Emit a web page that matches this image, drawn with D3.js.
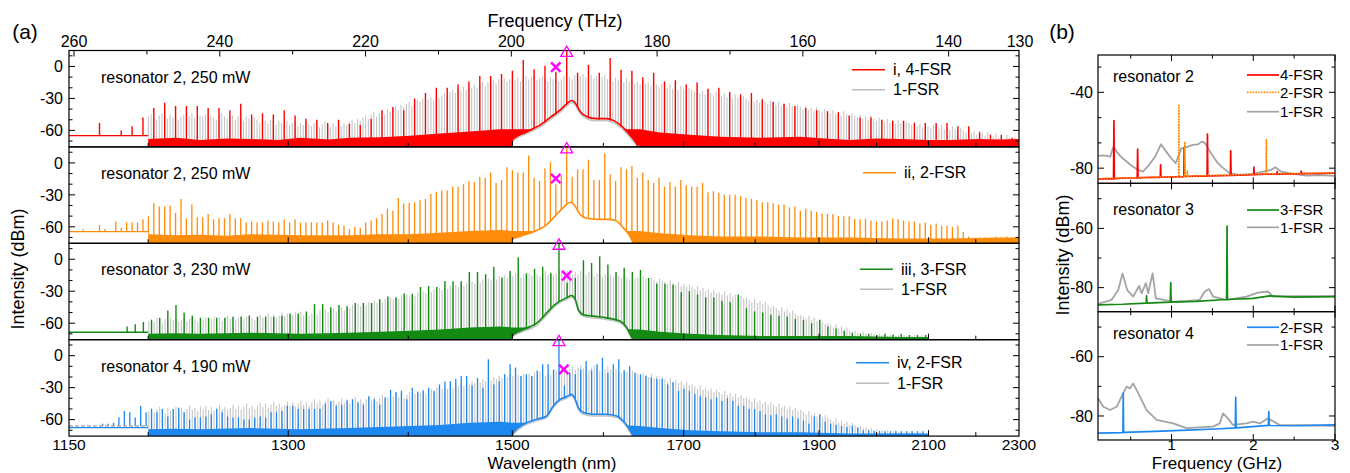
<!DOCTYPE html>
<html>
<head>
<meta charset="utf-8">
<script src="https://cdn.jsdelivr.net/npm/d3@7"></script>
<style>
  body { margin: 0; background: #fff; }
  text { font-family: "Liberation Sans", Arial, sans-serif; fill: #000; }
</style>
</head>
<body>
<svg id="fig" width="1350" height="473"></svg>
<script>
// ================= data, panel (a) =================
const C = 299792.458;              // nm * THz
const FSR = 0.3727;                // THz, single-FSR line spacing
const pumpRes2 = 192.40;           // THz, pump for resonator 2 (rows i, ii)
const pumpRes34 = 193.46;          // THz, pump for resonators 3, 4 (rows iii, iv)

const rowLabels = ["resonator 2, 250 mW", "resonator 2, 250 mW", "resonator 3, 230 mW", "resonator 4, 190 mW"];
const legendNames = ["i, 4-FSR", "ii, 2-FSR", "iii, 3-FSR", "iv, 2-FSR"];

// peak power (dBm) of each comb line, listed from high to low frequency
// red, 4-FSR, line index 43 .. -41 from the pump
const redPeaks = [
  -53,-66,-60,-56,-48,-39,-34,-37,-37,-37,
  -39,-39,-41,-35,-45,-44,-45,-41,-46,-49,
  -50,-53,-50,-54,-55,-49,-41,-38,-41,-30,
  -25,-20,-20,-17,-14,-9,-9,-7,-4,6,
  -2.5,0.6,-5,15,-6,1.5,-6,8,-3,-4,
  -10,-6,-14,-13,-17,-15,-21,-20,-24,-26,
  -25,-31,-33,-35,-37,-39,-41,-42,-43,-46,
  -48,-48,-50,-51,-51,-53,-53,-53,-53,-56,
  -56,-62,-64,-64,-67];
// gray, 1-FSR of resonator 2, index 154 .. -165
const gray1Peaks = [
  -47,-45,-48,-50,-46,-44,-47,-49,-45,-48, -46,-50,-47,-45,-49,-47,-44,-48,-50,-46,
  -47,-45,-49,-46,-48,-50,-46,-44,-47,-49, -48,-46,-50,-47,-49,-51,-47,-49,-52,-48,
  -50,-53,-49,-51,-54,-50,-52,-55,-51,-53, -54,-51,-55,-53,-52,-56,-53,-55,-52,-54,
  -56,-53,-55,-57,-54,-52,-55,-57,-53,-56, -54,-56,-53,-55,-52,-50,-53,-49,-51,-48,
  -46,-49,-45,-43,-47,-44,-41,-45,-40,-42, -39,-37,-41,-36,-38,-35,-33,-37,-34,-31,
  -33,-30,-34,-31,-29,-32,-28,-30,-27,-25, -27,-24,-22,-25,-21,-23,-19,-22,-18,-20,
  -17,-20,-16,-14,-18,-15,-17,-13,-16,-12, -15,-11,-14,-12,-9,-13,-10,-14,-11,-9,
  -12,-10,-8,-13,-11,-9,-12,-14,-10,-12, -11,-14,-12,-9,-5,-10,-12,-8,-11,-9,
  -7,-10,-12,-8,-11,-9,-13,-10,-8,-12, -11,-14,-10,-13,-12,-15,-11,-14,-13,-16,
  -14,-17,-13,-16,-15,-18,-14,-17,-19,-16, -18,-20,-17,-21,-19,-22,-18,-21,-23,-20,
  -22,-24,-21,-25,-23,-26,-22,-25,-27,-24, -26,-28,-25,-29,-27,-30,-26,-29,-31,-28,
  -30,-32,-29,-33,-31,-34,-30,-33,-35,-32, -34,-36,-33,-37,-35,-38,-34,-37,-39,-36,
  -38,-40,-37,-41,-39,-42,-38,-41,-43,-40, -42,-44,-41,-45,-43,-46,-42,-45,-47,-44,
  -46,-48,-45,-49,-47,-50,-46,-49,-51,-48, -50,-52,-49,-53,-51,-54,-50,-53,-55,-52,
  -53,-55,-52,-56,-54,-57,-53,-56,-58,-55, -56,-58,-55,-59,-57,-60,-56,-59,-61,-58,
  -60,-62,-59,-63,-61,-64,-60,-63,-65,-62, -64,-66,-63,-67,-65,-68,-64,-67,-68,-66];
// orange, 2-FSR, index 89 .. -83
const orangePeaks = [
  -62.5,-66,-66,-58,-62,-66,-55,-61,-56,-56,
  -56,-53,-50,-38,-41,-41,-40,-47,-34,-52,
  -39,-51,-51,-48,-53,-52,-52,-48,-52,-52,
  -56,-55,-56,-56,-54,-55,-56,-53,-56,-53,
  -56,-56,-56,-56,-56,-54,-56,-58,-59,-62,
  -60,-61,-56,-54,-52,-48,-43,-45,-33,-38,
  -38,-37,-35,-34,-29,-27,-26,-26,-22.5,-22.5,
  -20,-17,-18,-13,-14,-9,-19,-16,-4,-7,
  -9,-9,7,-14,-17,-5,0.6,-20,-12,15,
  -13,-6,-6,3,-16,-16,9,-11,-17,-4,
  -6,-3,-14,-9,-16,-19,-14,-22.5,-18,-22.5,
  -16,-21,-22.5,-22.5,-19,-27.5,-26.6,-28,-30,-30,
  -30,-31,-33,-34,-35,-37,-37,-38,-39,-39,
  -42,-41,-45,-43,-45,-46,-47.5,-48,-48,-50,
  -50,-50,-52.5,-53,-52.5,-54,-55,-55,-54,-52,
  -53,-54,-55,-55,-57,-56,-58,-57,-59,-59,
  -60,-59,-65,-69,-70,-70,-70,-70,-69,-70,
  -69,-70,-70];
// green, 3-FSR, index 53 .. -45
const greenPeaks = [
  -63,-61,-59,-57,-55,-48,-43,-50,-53,-55,
  -55,-55,-55,-54,-54,-53,-54,-54,-54,-53,
  -51,-51,-49,-42,-42,-45,-43,-44,-41,-41,
  -41,-37.5,-35,-36,-32,-32.5,-26,-25,-26,-20.5,
  -20.6,-20.6,-12,-12,-14,-7,-17,-11,2,-13,
  -9,-7,-13,15,-22,-17.5,-1,-3.4,2.8,-5,
  -12,-8,-12,-10,-17.5,-23,-23,-24,-31,-30,
  -33,-36,-36,-39,-40,-33,-46,-49,-50,-52,
  -53,-54,-56,-57,-60,-57,-63,-65,-67,-69,
  -70,-70,-71,-70,-71,-70,-71,-71,-71];
// gray, 1-FSR of resonator 3, index 151 .. -135
const gray3Peaks = [
  -58,-56,-59,-55,-57,-60,-56,-58,-55,-57, -56,-59,-57,-55,-58,-56,-54,-57,-59,-55,
  -57,-55,-58,-56,-54,-57,-55,-58,-56,-53, -56,-54,-57,-55,-53,-56,-54,-52,-55,-57,
  -54,-52,-55,-53,-51,-54,-52,-55,-53,-50, -53,-51,-54,-52,-50,-53,-49,-52,-50,-53,
  -51,-49,-52,-48,-50,-47,-50,-48,-46,-49, -47,-45,-48,-44,-46,-43,-45,-42,-44,-41,
  -43,-40,-42,-39,-41,-38,-40,-37,-39,-36, -38,-35,-37,-34,-36,-33,-35,-32,-34,-31,
  -33,-30,-32,-29,-31,-28,-30,-27,-29,-26, -28,-25,-27,-24,-26,-23,-25,-22,-24,-21,
  -23,-20,-22,-19,-21,-18,-20,-17,-19,-16, -18,-15,-17,-14,-16,-13,-15,-17,-14,-16,
  -13,-15,-12,-14,-16,-13,-11,-14,-12,-15, -13,-10,-12,-14,-11,-13,-15,-12,-14,-11,
  -13,-15,-12,-14,-16,-13,-15,-17,-14,-16, -15,-17,-14,-16,-18,-15,-17,-19,-16,-18,
  -17,-19,-16,-18,-20,-17,-19,-21,-18,-20, -21,-23,-20,-22,-24,-21,-25,-23,-26,-24,
  -26,-28,-25,-29,-27,-30,-28,-31,-29,-32, -31,-33,-30,-34,-32,-35,-33,-36,-34,-37,
  -36,-38,-40,-37,-41,-39,-42,-40,-43,-45, -44,-46,-48,-45,-49,-47,-50,-48,-51,-53,
  -52,-54,-56,-53,-57,-55,-58,-56,-59,-61, -60,-62,-64,-61,-65,-63,-66,-64,-67,-68,
  -67,-69,-70,-68,-70,-71,-69,-70,-71,-70, -71,-70,-72,-71,-70,-72,-71,-72,-71,-72,
  -71,-72,-71,-72,-72,-71,-72];
// blue, 2-FSR, index 85 .. -67
const bluePeaks = [
  -66,-64,-64,-63,-58,-52,-53,-58,-47,-53,
  -50,-53,-50,-57,-50,-49,-53,-60,-58,-58,
  -57,-55,-50,-53,-57,-58,-58,-60,-60,-58,
  -57,-58,-53,-53,-52,-47,-47,-50,-50,-50,
  -50,-50,-45,-42.5,-47,-46,-42,-41,-44,-46,
  -38,-41,-46,-39,-32,-34,-33,-41,-30,-34,
  -33,-30,-33,-27,-24,-24,-22,-19,-19,-28,
  -21,-30,-3.4,-27,-24,-17.5,-8,-11,-19,-17.5,
  -19,-14,-8,-8,-13,15,-28,-16,-17.5,-13,
  -5,-14,-8,-2,-16,-8,-3.4,-14,-10,-16,
  -17.5,-19,-20.6,-21.6,-22,-27,-25,-33,-31,-33,
  -36,-38,-39,-41,-39,-42.5,-40,-42.5,-47,-47,
  -50,-50,-52,-55,-56,-55,-57,-59,-57,-59,
  -61,-64,-57,-55,-62,-64,-65,-66,-67,-66,
  -67.5,-70,-70,-70.6,-71,-71,-71,-71,-71,-71,
  -71,-71,-71];
// gray, 1-FSR of resonator 4, index 151 .. -134
const gray4Peaks = [
  -52,-49,-53,-50,-48,-51,-54,-49,-52,-50, -48,-51,-49,-53,-50,-47,-51,-49,-52,-48,
  -50,-47,-51,-48,-52,-49,-46,-50,-48,-51, -49,-46,-50,-47,-51,-48,-45,-49,-47,-50,
  -47,-44,-48,-45,-49,-46,-43,-47,-45,-48, -46,-43,-47,-44,-48,-45,-42,-46,-44,-47,
  -44,-41,-45,-42,-46,-43,-40,-44,-42,-45, -43,-40,-44,-41,-45,-42,-39,-43,-41,-44,
  -41,-38,-42,-39,-43,-40,-37,-41,-39,-42, -38,-35,-39,-36,-40,-37,-34,-38,-36,-33,
  -35,-32,-36,-33,-31,-34,-30,-33,-31,-29, -31,-28,-30,-27,-29,-26,-28,-25,-27,-24,
  -26,-23,-25,-22,-24,-21,-23,-20,-22,-19, -21,-18,-20,-17,-19,-16,-18,-20,-17,-19,
  -17,-19,-16,-18,-15,-17,-19,-16,-18,-15, -14,-10,-13,-11,-14,-12,-10,-13,-11,-9,
  -12,-10,-13,-11,-9,-12,-14,-11,-13,-10, -13,-15,-12,-14,-16,-13,-15,-17,-14,-16,
  -17,-19,-16,-18,-20,-17,-21,-19,-22,-20, -22,-24,-21,-25,-23,-26,-24,-27,-25,-28,
  -27,-29,-31,-28,-32,-30,-33,-31,-34,-32, -34,-36,-33,-37,-35,-38,-36,-39,-37,-40,
  -39,-41,-43,-40,-44,-42,-45,-43,-46,-44, -46,-48,-45,-49,-47,-50,-48,-51,-49,-52,
  -51,-53,-55,-52,-56,-54,-57,-55,-58,-56, -58,-60,-62,-59,-63,-61,-64,-62,-65,-63,
  -65,-67,-66,-68,-67,-69,-68,-70,-69,-70, -70,-71,-70,-72,-71,-70,-72,-71,-72,-71,
  -72,-71,-72,-71,-72,-72];

// noise floor tops [THz, dBm]
const floorRed = [[249.85,-68],[246,-67],[242.72,-69],[239,-67.5],[235.86,-68],[232,-69],[229.0,-67],[225,-68.5],[222.14,-67],[218.02,-66.5],[213.91,-65],[209.79,-63],[205.68,-61],[201.56,-59],[199.91,-59],[193.32,-59],[182.35,-59],[179.6,-62],[175.49,-64],[171.37,-66],[165.88,-67],[160.39,-66],[156,-68],[153.53,-69],[150,-67.5],[146.67,-68],[143,-69],[139.81,-69],[136,-68],[132.95,-68.5],[130.34,-68]];
const floorOrange = [[249.85,-67],[246,-68],[242.72,-67.5],[239,-68.5],[235.86,-67],[229.0,-68],[222.14,-68],[218.02,-67],[213.91,-67],[209.79,-65.5],[205.68,-64],[201.56,-63],[199.91,-64],[193.32,-64],[182.35,-64],[179.6,-66],[175.49,-68],[171.37,-69],[165.88,-69],[160.39,-70],[153.53,-70],[146.67,-71],[139.81,-71],[132.95,-70],[130.34,-70]];
const floorGreen = [[249.85,-70],[246,-69.5],[242.72,-70],[235.86,-69],[229.0,-70],[222.14,-69],[218.02,-68],[213.91,-67],[209.79,-66],[205.68,-64],[201.56,-63],[199.91,-64],[193.32,-64],[182.35,-66],[179.6,-68],[175.49,-70],[171.37,-71],[165.88,-72],[160.39,-72],[153.53,-72],[146.67,-73],[142.76,-73]];
const floorBlue = [[249.85,-69],[246,-68.5],[242.72,-69],[235.86,-68],[229.0,-69],[222.14,-68],[218.02,-67],[213.91,-66],[209.79,-65],[205.68,-63],[201.56,-62],[199.91,-63],[193.32,-63],[182.35,-66],[179.6,-68],[175.49,-70],[171.37,-71],[165.88,-72],[160.39,-72],[153.53,-73],[146.67,-73],[142.76,-73]];

// amplifier pedestal around the pump [THz, dBm]
const pedRed = [[199.95,-75.5],[199.9,-69],[197.89,-61],[196.07,-55],[194.69,-48],[193.32,-41],[192.22,-34],[191.72,-32],[191.26,-34],[190.58,-42],[189.66,-47],[188.29,-49],[186.92,-49],[186.01,-50.6],[184.86,-56],[183.95,-62.5],[183.03,-70],[182.58,-75.5]];
const pedGray1 = [[199.95,-75.5],[199.9,-71],[197.89,-63],[196.07,-57],[194.69,-50],[193.32,-43],[192.22,-36],[191.72,-34],[191.26,-36],[190.58,-44],[189.66,-49],[188.29,-51],[186.92,-51],[186.01,-52.5],[184.86,-58],[183.95,-64.5],[183.03,-72],[182.4,-75.5]];
const pedOrange = [[199.95,-75.5],[199.9,-72],[198.81,-69],[197.03,-65],[195.15,-58],[194.01,-50],[192.87,-42],[191.85,-37],[191.26,-40.6],[190.58,-48.4],[189.66,-52],[188.29,-53],[186.46,-53],[185.54,-54.7],[184.64,-61],[183.72,-69],[183.27,-75.5]];
const pedGreen = [[199.95,-75.5],[199.9,-72],[198.81,-67],[196.52,-60],[194.69,-47],[194.01,-42.5],[192.40,-36],[191.72,-34],[191.26,-37],[190.81,-47],[190.13,-52],[188.75,-53.4],[186.92,-55],[185.09,-58],[184.17,-64],[183.49,-73],[183.3,-75.5]];
const pedGray3 = [[199.95,-75.5],[199.9,-73.5],[198.81,-69],[196.52,-62],[194.69,-49],[194.01,-44],[192.40,-37.5],[191.72,-35.5],[191.26,-38.5],[190.81,-48.5],[190.13,-53.5],[188.75,-55],[186.92,-56.5],[185.09,-59.5],[184.17,-65.5],[183.49,-74],[183.2,-75.5]];
const pedBlue = [[199.95,-75.5],[199.5,-70.6],[198.36,-64.4],[196.52,-59.7],[195.15,-56.6],[194.24,-47.2],[193.32,-41],[192.40,-38.4],[191.72,-36.3],[191.26,-40.3],[190.81,-48.8],[190.13,-53.4],[188.75,-55],[186.92,-55],[185.54,-56.6],[184.64,-61.3],[183.95,-67.5],[183.35,-74.7],[183.3,-75.5]];
const pedGray4 = [[199.95,-75.5],[199.5,-72],[198.36,-66],[196.52,-61.2],[195.15,-58],[194.24,-48.7],[193.32,-42.5],[192.40,-40],[191.72,-37.8],[191.26,-41.8],[190.81,-50.3],[190.13,-55],[188.75,-56.5],[186.92,-56.5],[185.54,-58],[184.64,-63],[183.95,-69],[183.35,-75.2],[183.2,-75.5]];

// short-wavelength trace level (separate scan) for each row, dBm
const leftLevels = [-65, -64.5, -68.5, -67.5];
const leftGray4 = -66;

// pump (triangle) and marked line (cross): [THz, dBm]
const pumpMarks = [pumpRes2, pumpRes2, pumpRes34, pumpRes34];
const crossMarks = [[193.9, -0.6], [193.9, -14.7], [192.4, -15.3], [192.8, -12.8]];

const topTicks = [260, 240, 220, 200, 180, 160, 140];
const topMinor = [250, 230, 210, 190, 170, 150];
const topLabels = [260, 240, 220, 200, 180, 160, 140, 130];
const wlLabels = [1150, 1300, 1500, 1700, 1900, 2100, 2300];
const wlMajor = [1300, 1500, 1700, 1900, 2100];
const wlMinor = [1200, 1400, 1600, 1800, 2000, 2200];
const aYMajor = [0, -30, -60];
const aYMinor = [10, -10, -20, -40, -50, -70];

// ================= data, panel (b) =================
const bLabels = ["resonator 2", "resonator 3", "resonator 4"];
const b1Gray = [[0.10,-73.5],[0.17,-73.2],[0.25,-73.9],[0.29,-68.6],[0.33,-71.5],[0.40,-74.8],[0.45,-76.5],[0.52,-79],[0.59,-80.9],[0.65,-81.8],[0.72,-78.5],[0.80,-73.9],[0.87,-67.4],[0.93,-71],[0.98,-73.9],[1.05,-77.4],[1.09,-73],[1.12,-69.5],[1.19,-68.8],[1.26,-67.7],[1.32,-67.5],[1.37,-66],[1.41,-66.8],[1.46,-70.5],[1.51,-73.9],[1.56,-77],[1.61,-79.2],[1.71,-82.6],[1.83,-83.5],[2.0,-83],[2.12,-81.8],[2.22,-80.9],[2.27,-79.5],[2.34,-81.8],[2.49,-83],[2.65,-83.9],[2.8,-83.6],[3.0,-84.1]];
const b1Red = [[0.10,-85.8],[0.2,-85.5],[0.29,-85.6],[0.295,-54.9],[0.30,-85.5],[0.45,-85.2],[0.58,-85.2],[0.585,-70],[0.59,-85.1],[0.75,-84.8],[0.862,-84.9],[0.866,-78.3],[0.870,-84.8],[1.0,-84.6],[1.15,-84.5],[1.154,-69.5],[1.158,-84.4],[1.3,-84.2],[1.435,-84.2],[1.439,-62],[1.443,-84.1],[1.6,-83.9],[1.72,-83.8],[1.724,-70.9],[1.728,-83.8],[1.9,-83.6],[2.005,-83.4],[2.008,-79.5],[2.012,-83.4],[2.15,-83.1],[2.29,-83.1],[2.294,-81.8],[2.298,-83.1],[2.45,-83],[2.583,-82.9],[2.587,-81.5],[2.591,-82.9],[2.8,-82.8],[3.0,-82.6]];
const b1Orange = [[0.10,-85.6],[0.3,-85.3],[0.6,-85.0],[0.9,-84.7],[1.085,-84.5],[1.089,-46.2],[1.093,-84.5],[1.158,-84.4],[1.162,-66],[1.166,-84.4],[1.19,-84.3],[1.193,-81.5],[1.196,-84.3],[1.5,-83.9],[1.9,-83.4],[2.156,-83],[2.16,-65.1],[2.164,-83],[2.5,-82.9],[3.0,-82.5]];
const b2Gray = [[0.10,-85.5],[0.267,-84.1],[0.348,-80.8],[0.40,-75.2],[0.458,-80.8],[0.531,-83],[0.604,-79.4],[0.633,-81.9],[0.686,-78.5],[0.714,-81.9],[0.768,-75.2],[0.808,-83.6],[1.019,-84.7],[1.2,-84.5],[1.345,-84.1],[1.406,-81.3],[1.459,-80.5],[1.508,-83],[1.671,-84.1],[1.916,-83],[2.057,-81.7],[2.18,-81.3],[2.241,-83],[2.485,-82.9],[3.0,-82.9]];
const b2Green = [[0.1,-85.8],[0.4,-85.6],[0.69,-85.2],[0.694,-82.8],[0.70,-85.2],[0.985,-84.9],[0.99,-78.3],[0.995,-84.9],[1.3,-84.6],[1.674,-84],[1.679,-59.2],[1.684,-84],[2.0,-83.6],[2.2,-82.8],[2.5,-83.2],[3.0,-83]];
const b3Gray = [[0.10,-74],[0.165,-76.9],[0.247,-78],[0.328,-76.9],[0.409,-72.3],[0.45,-70.1],[0.49,-70.7],[0.531,-69],[0.592,-72.3],[0.695,-78],[0.817,-81.3],[1.02,-82.5],[1.183,-84.1],[1.508,-83.6],[1.59,-82.5],[1.63,-79.1],[1.69,-80.8],[1.75,-83],[1.916,-82.5],[1.998,-81.9],[2.08,-82.5],[2.18,-80.8],[2.32,-83],[3.0,-83.3]];
const b3Blue = [[0.1,-85.8],[0.405,-85.6],[0.409,-72.3],[0.413,-85.5],[0.8,-85.2],[1.2,-84.8],[1.6,-84.3],[1.78,-84],[1.785,-73.7],[1.79,-84],[2.185,-83.2],[2.19,-78.5],[2.195,-83.2],[2.5,-83.3],[3.0,-83]];
const bXMajor = [1, 2, 3];
const bXMinor = [0.5, 1.5, 2.5];

// ================= drawing =================
const RED = "#ff0000", ORANGE = "#ff8c0a", GREEN = "#138a13", BLUE = "#1f88f0";
const GRAY = "#c6c6c6", GRAYB = "#a4a4a4", MAG = "#ff00ff";

const svg = d3.select("#fig");
const defs = svg.append("defs");
function clipRect(id, x, y, w, h) {
  defs.append("clipPath").attr("id", id).append("rect")
    .attr("x", x).attr("y", y).attr("width", w).attr("height", h);
}
function tick(g, x1, y1, x2, y2) {
  g.append("line").attr("x1", x1).attr("y1", y1).attr("x2", x2).attr("y2", y2)
    .attr("stroke", "#000").attr("stroke-width", 1);
}

// ---- panel (a) ----
const xA = d3.scaleLinear().domain([C / 1150, C / 2300]).range([69, 1019]);
const aL = 69, aR = 1019, aTop = 50.5, aRowH = 96.4, aDom = [-75.5, 15];
const splice = C / 1200;     // where the long-wavelength scan starts

const rowsA = [
  { color: RED, combs: [[gray1Peaks, 154, FSR, pumpRes2, GRAY, 1.1], [redPeaks, 43, 4 * FSR, pumpRes2, RED, 1.4]],
    floor: floorRed, peds: [[pedGray1, GRAY], [pedRed, RED]], legY: [19.2, 39.2], legX: 852 },
  { color: ORANGE, combs: [[orangePeaks, 89, 2 * FSR, pumpRes2, ORANGE, 1.3]],
    floor: floorOrange, peds: [[pedOrange, ORANGE]], legY: [25.8], legX: 863 },
  { color: GREEN, combs: [[gray3Peaks, 151, FSR, pumpRes34, GRAY, 1.1], [greenPeaks, 53, 3 * FSR, pumpRes34, GREEN, 1.4]],
    floor: floorGreen, peds: [[pedGray3, GRAY], [pedGreen, GREEN]], legY: [26, 46], legX: 860 },
  { color: BLUE, combs: [[gray4Peaks, 151, FSR, pumpRes34, GRAY, 1.1], [bluePeaks, 85, 2 * FSR, pumpRes34, BLUE, 1.3]],
    floor: floorBlue, peds: [[pedGray4, GRAY], [pedBlue, BLUE]], legY: [23, 43.6], legX: 856 }
];

rowsA.forEach((r, i) => {
  const top = aTop + i * aRowH, bot = top + aRowH;
  const y = d3.scaleLinear().domain(aDom).range([bot, top]);
  const yb = y(aDom[0]);
  clipRect("clipA" + i, aL, top, aR - aL, aRowH);
  const g = svg.append("g").attr("clip-path", `url(#clipA${i})`);

  r.combs.forEach(([peaks, idx0, step, pump, col, w]) => {
    const pts = peaks.map((p, k) => ({ f: pump + (idx0 - k) * step, p }));
    g.append("g").selectAll("line").data(pts).join("line")
      .attr("x1", d => xA(d.f)).attr("x2", d => xA(d.f))
      .attr("y1", yb).attr("y2", d => y(Math.min(d.p, aDom[1])))
      .attr("stroke", col).attr("stroke-width", w);
  });

  const area = d3.area().x(d => xA(d[0])).y0(yb).y1(d => y(d[1]));
  const line = d3.line().x(d => xA(d[0])).y(d => y(d[1]));
  g.append("path").datum(r.floor).attr("fill", r.color).attr("d", area);

  // below the pedestal and the short-wavelength trace the spectrum is empty
  g.append("path").datum(r.peds[0][0]).attr("fill", "#fff").attr("d", area.curve(d3.curveMonotoneX));
  const lv = i === 3 ? Math.max(leftLevels[i], leftGray4) : leftLevels[i];
  g.append("path").datum([[C / 1150, lv], [splice, lv]]).attr("fill", "#fff")
    .attr("d", d3.area().x(d => xA(d[0])).y0(yb).y1(d => y(d[1])));

  r.peds.forEach(([pts, col]) => {
    g.append("path").datum(pts).attr("fill", "none").attr("stroke", col)
      .attr("stroke-width", 1.6).attr("d", line.curve(d3.curveMonotoneX));
  });
  if (i === 3) {
    g.append("path").datum([[C / 1150, leftGray4], [splice, leftGray4]])
      .attr("fill", "none").attr("stroke", "#aaa").attr("stroke-width", 1.3)
      .attr("stroke-dasharray", "4,2").attr("d", d3.line().x(d => xA(d[0])).y(d => y(d[1])));
  }
  g.append("path").datum([[C / 1150, leftLevels[i]], [splice, leftLevels[i]]])
    .attr("fill", "none").attr("stroke", r.color).attr("stroke-width", 1.3)
    .attr("d", d3.line().x(d => xA(d[0])).y(d => y(d[1])));

  // frame and ticks
  const fr = svg.append("g");
  fr.append("rect").attr("x", aL).attr("y", top).attr("width", aR - aL).attr("height", aRowH)
    .attr("fill", "none").attr("stroke", "#000").attr("stroke-width", 1.2);
  aYMajor.forEach(v => { tick(fr, aL, y(v), aL + 6, y(v)); tick(fr, aR, y(v), aR - 6, y(v)); });
  aYMinor.forEach(v => { tick(fr, aL, y(v), aL + 3.5, y(v)); tick(fr, aR, y(v), aR - 3.5, y(v)); });
  wlMajor.forEach(v => tick(fr, xA(C / v), bot, xA(C / v), bot - 6));
  wlMinor.forEach(v => tick(fr, xA(C / v), bot, xA(C / v), bot - 4));
  fr.selectAll("text.yl").data(aYMajor).join("text")
    .attr("x", aL - 6).attr("y", d => y(d)).attr("dy", "0.36em")
    .attr("text-anchor", "end").attr("font-size", 16).text(d => d);

  fr.append("text").attr("x", 101).attr("y", top + 32).attr("font-size", 16).text(rowLabels[i]);

  // legend
  const names = [legendNames[i], "1-FSR"];
  const cols = [r.color, GRAY];
  r.legY.forEach((dy, k) => {
    fr.append("line").attr("x1", r.legX).attr("x2", r.legX + 33)
      .attr("y1", top + dy).attr("y2", top + dy)
      .attr("stroke", k === 0 ? cols[0] : "#bdbdbd").attr("stroke-width", 1.6);
    fr.append("text").attr("x", r.legX + 41).attr("y", top + dy).attr("dy", "0.36em")
      .attr("font-size", 16).text(names[k]);
  });

  // pump triangle and marked line
  svg.append("path").attr("d", d3.symbol(d3.symbolTriangle).size(62)())
    .attr("transform", `translate(${xA(pumpMarks[i])},${top + 2.5})`)
    .attr("fill", "none").attr("stroke", MAG).attr("stroke-width", 1.3);
  const xs = d3.symbolX || d3.symbolCross;
  svg.append("path").attr("d", d3.symbol(xs).size(60)())
    .attr("transform", `translate(${xA(crossMarks[i][0])},${y(crossMarks[i][1])})`)
    .attr("fill", "none").attr("stroke", MAG).attr("stroke-width", 2.4);
});

// top frequency axis
const ta = svg.append("g");
topTicks.forEach(v => tick(ta, xA(v), aTop, xA(v), aTop + 6));
topMinor.forEach(v => tick(ta, xA(v), aTop, xA(v), aTop + 4));
ta.selectAll("text").data(topLabels).join("text")
  .attr("x", d => Math.min(xA(d), aR + 1)).attr("y", aTop - 3.5).attr("text-anchor", "middle")
  .attr("font-size", 16).text(d => d);
svg.append("text").attr("x", 555).attr("y", 26.5).attr("text-anchor", "middle")
  .attr("font-size", 18).text("Frequency (THz)");

// bottom wavelength labels
svg.append("g").selectAll("text").data(wlLabels).join("text")
  .attr("x", d => xA(C / d)).attr("y", 450).attr("text-anchor", "middle")
  .attr("font-size", 15.5).text(d => d);
svg.append("text").attr("x", 552).attr("y", 469).attr("text-anchor", "middle")
  .attr("font-size", 17).text("Wavelength (nm)");
svg.append("text").attr("transform", "translate(24,269) rotate(-90)").attr("text-anchor", "middle")
  .attr("font-size", 18).text("Intensity (dBm)");
svg.append("text").attr("x", 25).attr("y", 39).attr("text-anchor", "middle")
  .attr("font-size", 21).text("(a)");

// ---- panel (b) ----
const xB = d3.scaleLinear().domain([0.1, 3]).range([1098, 1335]);
const bL = 1098, bR = 1335, bTop = 55, bRowH = 128.33;
const rowsB = [
  { dom: [-88, -20.3], major: [-40, -80], ticks: [-80, -66.67, -53.33, -40, -26.67],
    series: [[b1Gray, GRAYB, null], [b1Red, RED, null], [b1Orange, ORANGE, "1.6,1.2"]],
    legend: [["4-FSR", RED, null], ["2-FSR", ORANGE, "1.6,1.2"], ["1-FSR", GRAYB, null]],
    legY: [20, 37.3, 56.7], labY: 26.7 },
  { dom: [-88.1, -44.8], major: [-60, -80], ticks: [-80, -70, -60, -50],
    series: [[b2Gray, GRAYB, null], [b2Green, GREEN, null]],
    legend: [["3-FSR", GREEN, null], ["1-FSR", GRAYB, null]], legY: [26.7, 44], labY: 31.7 },
  { dom: [-88.1, -44.8], major: [-60, -80], ticks: [-80, -70, -60, -50],
    series: [[b3Gray, GRAYB, null], [b3Blue, BLUE, null]],
    legend: [["2-FSR", BLUE, null], ["1-FSR", GRAYB, null]], legY: [15.6, 33.3], labY: 27.6 }
];
rowsB.forEach((r, i) => {
  const top = bTop + i * bRowH, bot = top + bRowH;
  const y = d3.scaleLinear().domain(r.dom).range([bot, top]);
  clipRect("clipB" + i, bL, top, bR - bL, bRowH);
  const g = svg.append("g").attr("clip-path", `url(#clipB${i})`);
  const line = d3.line().x(d => xB(d[0])).y(d => y(d[1]));
  r.series.forEach(([pts, col, dash]) => {
    g.append("path").datum(pts).attr("fill", "none").attr("stroke", col)
      .attr("stroke-width", col === GRAYB ? 1.8 : 1.7).attr("stroke-dasharray", dash)
      .attr("stroke-linejoin", "round").attr("d", line);
  });
  const fr = svg.append("g");
  fr.append("rect").attr("x", bL).attr("y", top).attr("width", bR - bL).attr("height", bRowH)
    .attr("fill", "none").attr("stroke", "#000").attr("stroke-width", 1.2);
  r.ticks.forEach(v => {
    const len = r.major.includes(v) ? 6 : 3.5;
    tick(fr, bL, y(v), bL + len, y(v)); tick(fr, bR, y(v), bR - len, y(v));
  });
  bXMajor.forEach(v => { tick(fr, xB(v), bot, xB(v), bot - 6); tick(fr, xB(v), top, xB(v), top + 6); });
  bXMinor.forEach(v => { tick(fr, xB(v), bot, xB(v), bot - 3.5); tick(fr, xB(v), top, xB(v), top + 3.5); });
  fr.selectAll("text.yl").data(r.major).join("text")
    .attr("x", bL - 5).attr("y", d => y(d)).attr("dy", "0.36em")
    .attr("text-anchor", "end").attr("font-size", 16).text(d => d);
  fr.append("text").attr("x", 1113).attr("y", top + r.labY).attr("font-size", 16).text(bLabels[i]);
  r.legend.forEach(([name, col, dash], k) => {
    fr.append("line").attr("x1", 1247).attr("x2", 1279).attr("y1", top + r.legY[k]).attr("y2", top + r.legY[k])
      .attr("stroke", col).attr("stroke-width", 1.7).attr("stroke-dasharray", dash);
    fr.append("text").attr("x", 1280).attr("y", top + r.legY[k]).attr("dy", "0.36em")
      .attr("font-size", 15).text(name);
  });
});
svg.append("g").selectAll("text").data(bXMajor).join("text")
  .attr("x", d => xB(d)).attr("y", 450).attr("text-anchor", "middle")
  .attr("font-size", 15.5).text(d => d);
svg.append("text").attr("x", 1217).attr("y", 469).attr("text-anchor", "middle")
  .attr("font-size", 17).text("Frequency (GHz)");
svg.append("text").attr("transform", "translate(1069,255) rotate(-90)").attr("text-anchor", "middle")
  .attr("font-size", 18).text("Intensity (dBm)");
svg.append("text").attr("x", 1062).attr("y", 39).attr("text-anchor", "middle")
  .attr("font-size", 21).text("(b)");
</script>
</body>
</html>
